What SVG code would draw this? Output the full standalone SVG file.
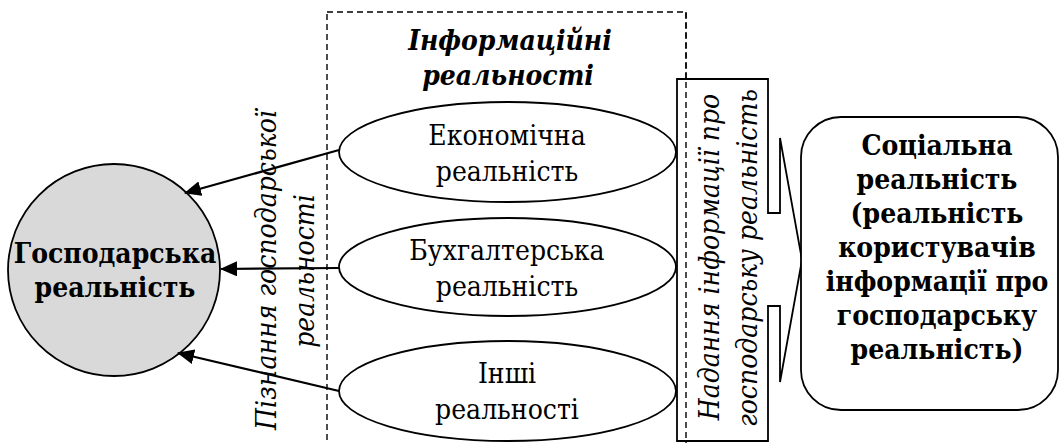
<svg xmlns="http://www.w3.org/2000/svg" width="1062" height="443" viewBox="0 0 1062 443">
<style>
  .t { font-family: 'DejaVu Serif Condensed', 'DejaVu Serif', serif; font-stretch: condensed; font-size: 28px; text-anchor: middle; fill: #000; }
  .b { font-weight: bold; }
  .i { font-style: italic; }
  .shape { fill: #fff; stroke: #000; stroke-width: 1.8; }
  .conn { stroke: #000; stroke-width: 2.2; fill: none; }
</style>
<defs>
  <marker id="ah" markerWidth="17" markerHeight="15" refX="16" refY="7.5" orient="auto" markerUnits="userSpaceOnUse">
    <path d="M0,0 L17,7.5 L0,15 Z" fill="#000"/>
  </marker>
</defs>
<rect x="0" y="0" width="1062" height="443" fill="#fff"/>

<g id="info-realities-frame">
  <rect x="327" y="12" width="359" height="450" fill="none" stroke="#000" stroke-width="1.4" stroke-dasharray="6 4"/>
  <text class="t b i" x="510" y="50">Інформаційні</text>
  <text class="t b i" x="508" y="85">реальності</text>
</g>

<g id="gosp">
  <circle cx="114" cy="270" r="106" fill="#d9d9d9" stroke="#000" stroke-width="1.8"/>
  <text class="t b" x="115" y="263">Господарська</text>
  <text class="t b" x="115" y="297">реальність</text>
</g>

<g id="econ">
  <ellipse class="shape" cx="507.5" cy="152" rx="168.5" ry="50"/>
  <text class="t" x="507" y="145">Економічна</text>
  <text class="t" x="507" y="181">реальність</text>
</g>

<g id="buh">
  <ellipse class="shape" cx="507.5" cy="267" rx="168.5" ry="49"/>
  <text class="t" x="507" y="260">Бухгалтерська</text>
  <text class="t" x="507" y="296">реальність</text>
</g>

<g id="inshi">
  <ellipse class="shape" cx="507.5" cy="391" rx="168.5" ry="50"/>
  <text class="t" x="507" y="383">Інші</text>
  <text class="t" x="507" y="419">реальності</text>
</g>

<g id="connectors">
  <line class="conn" x1="339" y1="150" x2="185" y2="193" marker-end="url(#ah)"/>
  <line class="conn" x1="339" y1="268" x2="221" y2="269" marker-end="url(#ah)"/>
  <line class="conn" x1="339" y1="391" x2="178" y2="353" marker-end="url(#ah)"/>
</g>

<g id="label-piznannia">
  <text class="t i" transform="translate(276,270) rotate(-90)" x="0" y="0">Пізнання господарської</text>
  <text class="t i" transform="translate(314,271) rotate(-90)" x="0" y="0">реальності</text>
</g>

<g id="nadannia-arrow">
  <polygon class="shape" points="677,79 768,79 768,213 780,213 780,138 802,260 780,382 780,306 768,306 768,441 677,441"/>
  <line x1="686" y1="12" x2="686" y2="450" stroke="#000" stroke-width="1.4" stroke-dasharray="6 4"/>
  <text class="t i" transform="translate(719,257) rotate(-90)" x="0" y="0">Надання інформації про</text>
  <text class="t i" transform="translate(757,258) rotate(-90)" x="0" y="0">господарську реальність</text>
</g>

<g id="social">
  <rect class="shape" x="801" y="117" width="257" height="293" rx="40" ry="40"/>
  <text class="t b" x="937" y="155">Соціальна</text>
  <text class="t b" x="937" y="189">реальність</text>
  <text class="t b" x="937" y="223">(реальність</text>
  <text class="t b" x="937" y="257">користувачів</text>
  <text class="t b" x="937" y="291">інформації про</text>
  <text class="t b" x="937" y="325">господарську</text>
  <text class="t b" x="937" y="359">реальність)</text>
</g>
</svg>
